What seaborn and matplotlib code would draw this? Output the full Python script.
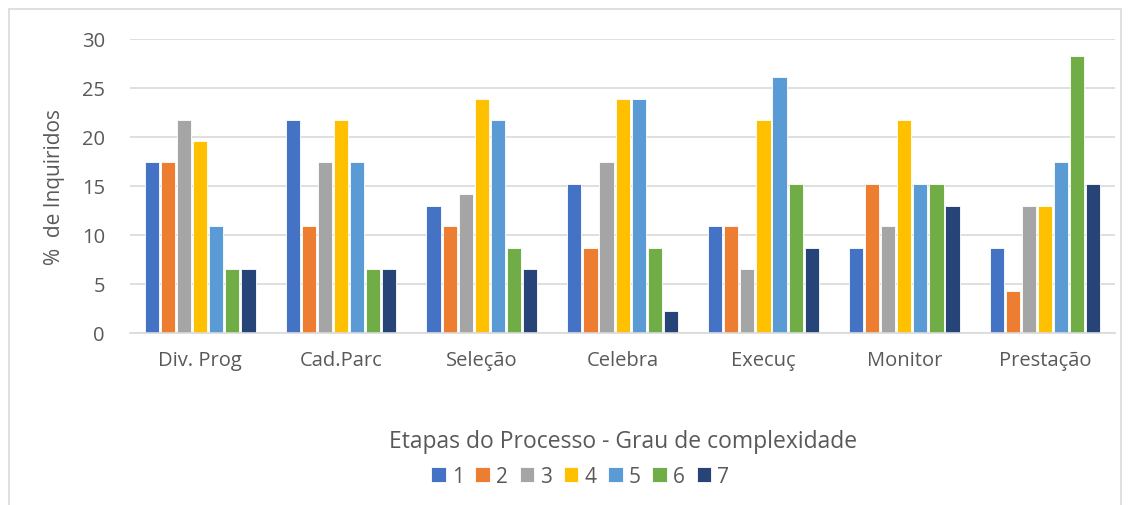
import seaborn as sns
import matplotlib.pyplot as plt
import pandas as pd
from matplotlib.patches import Rectangle

# Chart data (% of respondents by process stage and complexity grade)
stages = ['Div. Prog', 'Cad.Parc', 'Seleção', 'Celebra', 'Execuç', 'Monitor', 'Prestação']
grades = ['1', '2', '3', '4', '5', '6', '7']
grade_1 = [17.4, 21.7, 13.0, 15.2, 10.9, 8.7, 8.7]
grade_2 = [17.4, 10.9, 10.9, 8.7, 10.9, 15.2, 4.3]
grade_3 = [21.7, 17.4, 14.2, 17.4, 6.5, 10.9, 13.0]
grade_4 = [19.6, 21.7, 23.9, 23.9, 21.7, 21.7, 13.0]
grade_5 = [10.9, 17.4, 21.7, 23.9, 26.1, 15.2, 17.4]
grade_6 = [6.5, 6.5, 8.7, 8.7, 15.2, 15.2, 28.3]
grade_7 = [6.5, 6.5, 6.5, 2.2, 8.7, 13.0, 15.2]
palette = ['#4472c4', '#ed7d31', '#a5a5a5', '#ffc000', '#5b9bd5', '#70ad47', '#264478']

series = [grade_1, grade_2, grade_3, grade_4, grade_5, grade_6, grade_7]
rows = []
for g, vals in zip(grades, series):
    for s, v in zip(stages, vals):
        rows.append({'Etapa': s, 'Grau': g, 'Pct': v})
df = pd.DataFrame(rows)

sns.set_style('white')
plt.rcParams['font.family'] = ['Open Sans', 'DejaVu Sans']
text_color = '#595959'

fig = plt.figure(figsize=(11.29, 5.06), dpi=100)
ax = fig.add_axes([0.115, 0.34, 0.873, 0.581])

sns.barplot(data=df, x='Etapa', y='Pct', hue='Grau', palette=palette,
            order=stages, hue_order=grades, width=0.8, gap=0.12,
            saturation=1, edgecolor='white', linewidth=0.6, ax=ax)

ax.set_ylim(0, 30)
ax.set_yticks(range(0, 31, 5))
ax.yaxis.grid(True, color='#d9d9d9', linewidth=1.2)
ax.set_axisbelow(True)
for side in ['top', 'right', 'left']:
    ax.spines[side].set_visible(False)
ax.spines['bottom'].set_color('#d9d9d9')
ax.spines['bottom'].set_linewidth(1.2)
ax.tick_params(axis='both', length=0, labelsize=14.5, colors=text_color, pad=12)
ax.tick_params(axis='y', pad=18)
ax.set_ylabel('%  de Inquiridos', fontsize=15, color=text_color, labelpad=12)
ax.set_xlabel('Etapas do Processo - Grau de complexidade', fontsize=16.5,
              color=text_color, labelpad=43)

handles, labels = ax.get_legend_handles_labels()
ax.get_legend().remove()
leg = fig.legend(handles, labels, loc='center', bbox_to_anchor=(0.514, 0.057),
                 ncol=7, frameon=False, fontsize=15, handlelength=0.7,
                 handleheight=0.7, handletextpad=0.3, columnspacing=0.55)
for t in leg.get_texts():
    t.set_color(text_color)

# light chart border
fig.patches.append(Rectangle((0.008, -0.1), 0.985, 1.08, transform=fig.transFigure,
                             fill=False, edgecolor='#d9d9d9', linewidth=1.2))

fig.savefig('out.png', dpi=100)
